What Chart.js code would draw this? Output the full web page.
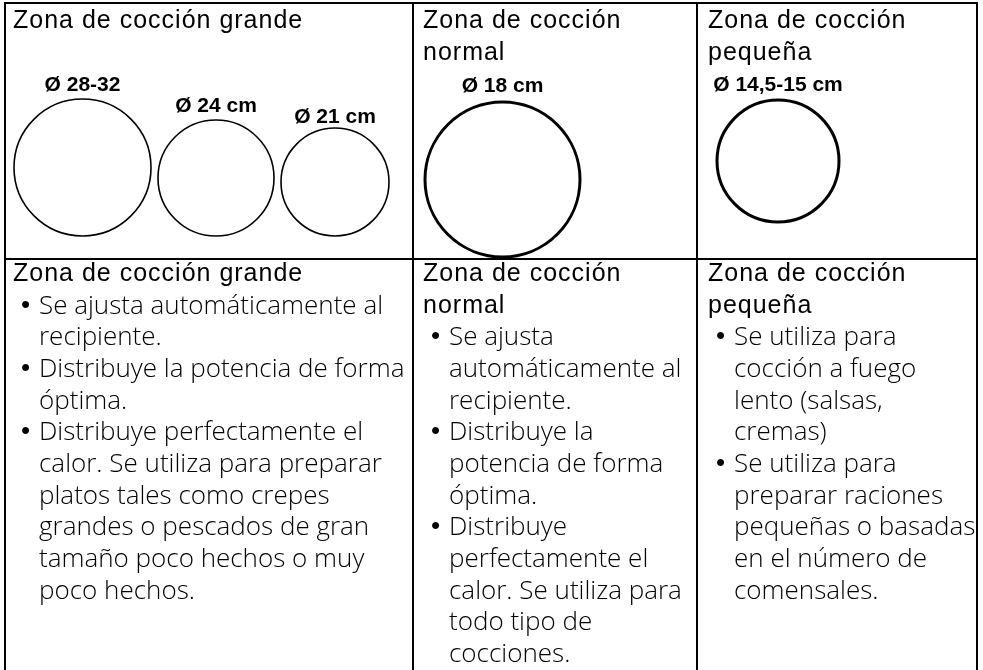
<!DOCTYPE html>
<html lang="es">
<head>
<meta charset="utf-8">
<title>Zonas de cocción</title>
<script src="https://cdn.jsdelivr.net/npm/chart.js@4.4.1/dist/chart.umd.min.js"></script>
<style>
    html, body { margin: 0; padding: 0; background: #fff; }
    body { width: 983px; height: 670px; overflow: hidden; position: relative; color: #000; }
    #rings { position: absolute; left: 0; top: 0; }
    .rule { position: absolute; background: #000; }
    .cell { position: absolute; }
    .title { font: 400 25px 'Liberation Sans', Arial, sans-serif; letter-spacing: 1px; line-height: 31.65px; }
    .note { position: relative; padding-left: 26px; white-space: nowrap;
            font: 300 26px 'Open Sans', sans-serif; line-height: 31.65px; }
    .note::before { content: '\2022'; position: absolute; left: 8px; top: 0;
                    font: 400 26px 'Liberation Sans', Arial, sans-serif; }
</style>
</head>
<body>
<canvas id="rings" width="983" height="259"></canvas>

<script>
// Table content
const zoneTitles = ['Zona de cocción grande', 'Zona de cocción normal', 'Zona de cocción pequeña'];

// Rings: label, nominal diameter (cm), zone they belong to
const ringLabels = ['Ø 28-32', 'Ø 24 cm', 'Ø 21 cm', 'Ø 18 cm', 'Ø 14,5-15 cm'];
const ringDiameters = [30, 24, 21, 18, 14.75];
const ringZone = [0, 0, 0, 1, 2];

// Bullet notes per zone (line breaks as printed)
const notesGrande = [
    ['Se ajusta automáticamente al', 'recipiente.'],
    ['Distribuye la potencia de forma', 'óptima.'],
    ['Distribuye perfectamente el', 'calor. Se utiliza para preparar', 'platos tales como crepes',
     'grandes o pescados de gran', 'tamaño poco hechos o muy', 'poco hechos.']
];
const notesNormal = [
    ['Se ajusta', 'automáticamente al', 'recipiente.'],
    ['Distribuye la', 'potencia de forma', 'óptima.'],
    ['Distribuye', 'perfectamente el', 'calor. Se utiliza para', 'todo tipo de', 'cocciones.']
];
const notesPequena = [
    ['Se utiliza para', 'cocción a fuego', 'lento (salsas,', 'cremas)'],
    ['Se utiliza para', 'preparar raciones', 'pequeñas o basadas', 'en el número de', 'comensales.']
];

// ---- layout / style (not data) ----
const colRules = [4, 412, 696, 976];      // vertical rules, left edge
const textLeft = [13, 423, 708];
const rowRule = 258;
const ringRadius = [68.5, 58, 54, 77.5, 61];   // drawing is not to scale
const ringStroke = [1.6, 1.6, 1.6, 3, 3];
const ringLabelGap = [8, 8, 5, 10, 9];
const ringInsetX = [10, 13, 21];
const ringInsetBottom = [23, 2, 37];
const ringGap = 7;

// Grid lines
function rule(x, y, w, h) {
    const d = document.createElement('div');
    d.className = 'rule';
    Object.assign(d.style, { left: x + 'px', top: y + 'px', width: w + 'px', height: h + 'px' });
    document.body.appendChild(d);
}
rule(colRules[0], 2, colRules[3] + 2 - colRules[0], 2);
rule(colRules[0], rowRule, colRules[3] + 2 - colRules[0], 2);
colRules.forEach(x => rule(x, 2, 2, 700));

// Text cells
function cell(col, top, notes) {
    const c = document.createElement('div');
    c.className = 'cell';
    c.style.left = textLeft[col] + 'px';
    c.style.top = top + 'px';
    c.style.width = (colRules[col + 1] - textLeft[col] - 4) + 'px';
    const t = document.createElement('div');
    t.className = 'title';
    t.textContent = zoneTitles[col];
    c.appendChild(t);
    (notes || []).forEach(lines => {
        const n = document.createElement('div');
        n.className = 'note';
        n.innerHTML = lines.join('<br>');
        c.appendChild(n);
    });
    document.body.appendChild(c);
}
[0, 1, 2].forEach(i => cell(i, 4, null));
cell(0, 257, notesGrande);
cell(1, 257, notesNormal);
cell(2, 257, notesPequena);

// Ring positions: rings of a zone sit side by side on a common baseline
const ringPoints = [];
const cursor = ringInsetX.map((dx, z) => colRules[z] + dx);
ringLabels.forEach((label, i) => {
    const z = ringZone[i];
    const r = ringRadius[i];
    ringPoints.push({ x: cursor[z] + r, y: ringInsetBottom[z] + r, d: ringDiameters[i] });
    cursor[z] += 2 * r + ringGap;
});

// Size labels above each ring
const ringLabelPlugin = {
    id: 'ringLabels',
    afterDatasetsDraw(chart) {
        const { ctx } = chart;
        const meta = chart.getDatasetMeta(0);
        ctx.save();
        ctx.font = 'bold 21px "Liberation Sans", Arial, sans-serif';
        ctx.fillStyle = '#000';
        ctx.textAlign = 'center';
        ctx.textBaseline = 'alphabetic';
        meta.data.forEach((pt, i) => {
            ctx.fillText(ringLabels[i], pt.x, pt.y - ringRadius[i] - ringLabelGap[i]);
        });
        ctx.restore();
    }
};

new Chart(document.getElementById('rings').getContext('2d'), {
    type: 'scatter',
    data: {
        labels: ringLabels,
        datasets: [{
            data: ringPoints,
            pointRadius: ctx => ringRadius[ctx.dataIndex],
            pointHoverRadius: ctx => ringRadius[ctx.dataIndex],
            pointBorderWidth: ctx => ringStroke[ctx.dataIndex],
            pointHoverBorderWidth: ctx => ringStroke[ctx.dataIndex],
            pointBackgroundColor: 'rgba(0,0,0,0)',
            pointBorderColor: '#000',
            clip: false
        }]
    },
    options: {
        responsive: false,
        animation: false,
        events: [],
        layout: { padding: 0, autoPadding: false },
        plugins: { legend: { display: false }, tooltip: { enabled: false } },
        scales: {
            x: { type: 'linear', min: 0, max: 983, display: false },
            y: { type: 'linear', min: 0, max: 259, display: false }
        }
    },
    plugins: [ringLabelPlugin]
});
</script>
</body>
</html>
